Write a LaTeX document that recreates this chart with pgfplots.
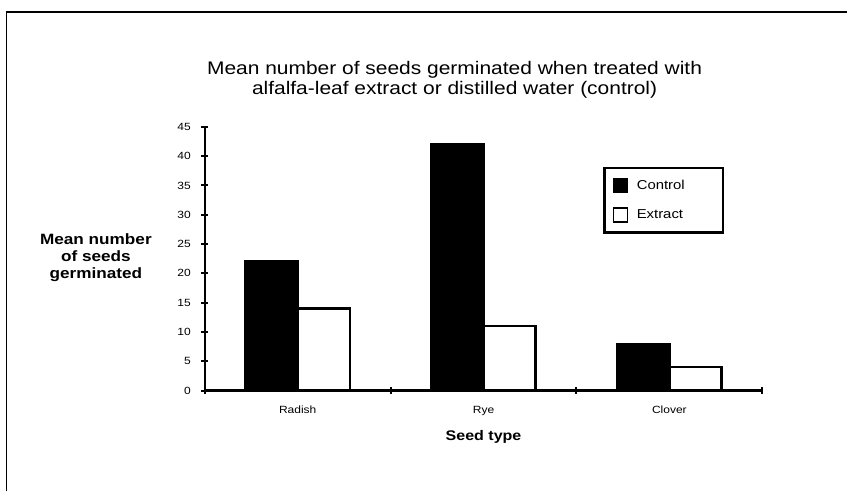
\documentclass[border=0pt]{standalone}
\usepackage{pgfplots}
\pgfplotsset{compat=1.18}
\usepackage{fontspec}
\setmainfont{Liberation Sans}[FakeStretch=1.15]
\begin{document}
\begin{tikzpicture}[x=1bp,y=1bp]
\path (0,0) rectangle (848,491);
\draw[line width=1.6bp] (6,479) -- (848,479);
\draw[line width=0.9bp] (6,479) -- (6,0);
\begin{axis}[
  at={(205bp,100bp)}, anchor=south west,
  scale only axis, width=558bp, height=264bp,
  xmin=-0.5, xmax=2.5, ymin=0, ymax=45,
  axis lines=left, axis line style={-, line width=2.4bp},
  ybar=0pt, bar width=0.28,
  xtick={-0.5,0.5,1.5,2.5}, xticklabels={},
  extra x ticks={0,1,2}, extra x tick labels={Radish,Rye,Clover},
  extra x tick style={major tick length=0pt, tick style={draw=none},
    tick label style={font=\fontsize{10.5}{12}\selectfont, yshift=-12bp}},
  every tick/.style={black, line width=2bp},
  major tick length=7bp,
  ytick={0,5,...,45},
  y tick label style={font=\fontsize{10.5}{12}\selectfont, xshift=-7bp},
  tick align=center,
  /pgf/number format/assume math mode=true,
  legend style={at={(0.715,0.848)}, anchor=north west, draw=black, line width=2.4bp,
    font=\fontsize{13}{15}\selectfont, row sep=14bp, inner xsep=8bp, inner ysep=10bp,
    column sep=0bp, nodes={inner sep=0pt}},
  legend cell align=left,
  legend image code/.code={\draw[#1, line width=1.2bp] (0bp,-7bp) rectangle (14bp,7bp);},
]
\addplot[fill=black, draw=black, line width=2.4bp] coordinates {(0,22) (1,42) (2,8)};
\addplot[fill=white, draw=black, line width=2.4bp] coordinates {(0,14) (1,11) (2,4)};
\legend{\makebox[87bp][l]{\hspace*{9bp}Control}, \makebox[87bp][l]{\hspace*{9bp}Extract}}
\end{axis}
\node[align=center, font=\fontsize{18.3}{20.5}\selectfont] at (455,411) {Mean number of seeds germinated when treated with\\alfalfa-leaf extract or distilled water (control)};
\node[align=center, font=\bfseries\fontsize{15}{17.5}\selectfont] at (96,233) {Mean number\\of seeds\\germinated};
\node[font=\bfseries\fontsize{14}{16}\selectfont] at (484,54) {Seed type};
\end{tikzpicture}
\end{document}
